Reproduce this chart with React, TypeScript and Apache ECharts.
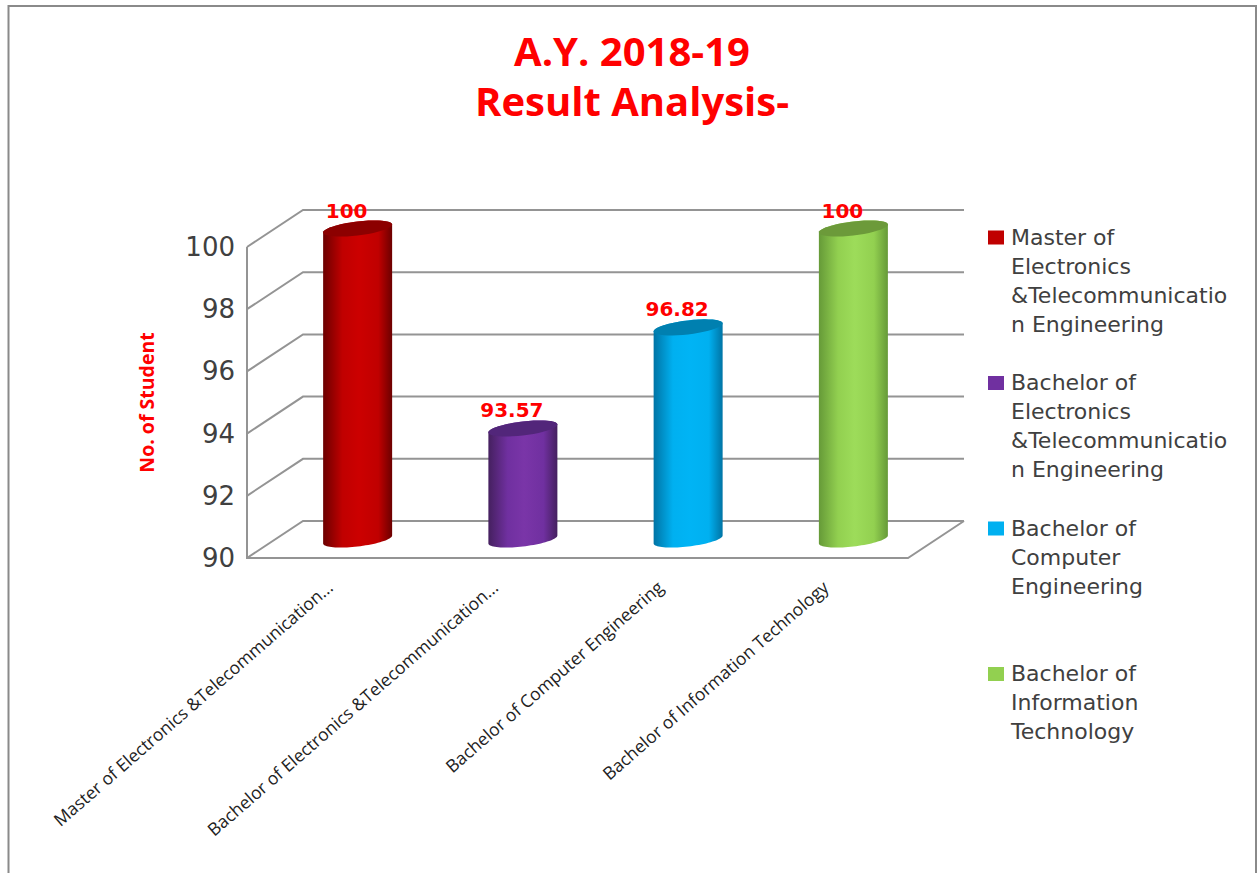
import React, { useEffect, useRef } from "react";
import * as echarts from "echarts";

const TITLE = "A.Y. 2018-19\nResult Analysis-";
const Y_NAME = "No. of Student";
const SERIES_NAMES = [
  "Master of Electronics &Telecommunication Engineering",
  "Bachelor of Electronics &Telecommunication Engineering",
  "Bachelor of Computer Engineering",
  "Bachelor of Information Technology",
];
const LEGEND_TEXTS = [
  "Master of\nElectronics\n&Telecommunicatio\nn Engineering",
  "Bachelor of\nElectronics\n&Telecommunicatio\nn Engineering",
  "Bachelor of\nComputer\nEngineering\n ",
  "Bachelor of\nInformation\nTechnology\n ",
];
const AXIS_LABELS = [
  "Master of Electronics &Telecommunication...",
  "Bachelor of Electronics &Telecommunication...",
  "Bachelor of Computer Engineering",
  "Bachelor of Information Technology",
];
const VALUES = [100, 93.57, 96.82, 100];
const Y_TICKS = [90, 92, 94, 96, 98, 100];
const MAIN_COLORS = ["#c00000", "#7030a0", "#00b0f0", "#92d050"];
const EDGE_COLORS = ["#6c0000", "#45205f", "#0074a5", "#669a38"];
const BRIGHT_COLORS = ["#cc0000", "#7a35a8", "#00b4f5", "#9ddc5a"];
const CAP_COLORS = ["#8c0000", "#52267a", "#0080b0", "#6c9a3a"];

const DEPTH_X = 56;
const DEPTH_Y = 37;
const HALF_W = 34.5;
const TILT = 4;
const RY = 7;
const ARC_STEPS = 40;

function renderWalls(params: any, api: any) {
  const sys = params.coordSys;
  const p = api.coord([0, api.value(1)]);
  const y = p[1];
  const x0 = sys.x;
  const x1 = sys.x + sys.width;
  const style = { stroke: "#949494", lineWidth: 2, fill: "none" };
  const children: any[] = [
    {
      type: "polyline",
      shape: { points: [[x0, y], [x0 + DEPTH_X, y - DEPTH_Y], [x1 + DEPTH_X, y - DEPTH_Y]] },
      style,
    },
  ];
  if (params.dataIndex === 0) {
    children.push({
      type: "polyline",
      shape: { points: [[x0, sys.y], [x0, y], [x1, y], [x1 + DEPTH_X, y - DEPTH_Y]] },
      style,
    });
  }
  return { type: "group", children };
}

function arcPoints(cx: number, cy: number, from: number, to: number) {
  const pts: string[] = [];
  for (let i = 0; i <= ARC_STEPS; i++) {
    const t = from + ((to - from) * i) / ARC_STEPS;
    const x = cx + HALF_W * Math.cos(t);
    const y = cy - TILT * Math.cos(t) + RY * Math.sin(t);
    pts.push(`${x.toFixed(2)} ${y.toFixed(2)}`);
  }
  return pts;
}

function makeCylinder(idx: number) {
  return (_params: any, api: any) => {
    const top = api.coord([api.value(0), api.value(1)]);
    const base = api.coord([api.value(0), 90]);
    const cx = top[0] + DEPTH_X / 2;
    const ty = top[1] - DEPTH_Y / 2;
    const by = base[1] - DEPTH_Y / 2;
    // body: lower half of the base (left to right), upper half of the top (right to left)
    const bodyPts = [
      ...arcPoints(cx, by, Math.PI, 0),
      ...arcPoints(cx, ty, 0, -Math.PI),
    ];
    const capPts = arcPoints(cx, ty, 0, Math.PI * 2);
    return {
      type: "group",
      children: [
        {
          type: "path",
          shape: { pathData: "M" + bodyPts.join("L") + "Z" },
          style: {
            fill: new echarts.graphic.LinearGradient(0, 0, 1, 0, [
              { offset: 0, color: EDGE_COLORS[idx] },
              { offset: 0.28, color: MAIN_COLORS[idx] },
              { offset: 0.52, color: BRIGHT_COLORS[idx] },
              { offset: 0.8, color: MAIN_COLORS[idx] },
              { offset: 1, color: EDGE_COLORS[idx] },
            ]),
          },
        },
        { type: "path", shape: { pathData: "M" + capPts.join("L") + "Z" }, style: { fill: CAP_COLORS[idx] } },
        {
          type: "text",
          style: {
            text: String(api.value(1)),
            x: cx - 11,
            y: ty - 18,
            fill: "#ff0000",
            font: "bold 20px 'DejaVu Sans'",
            textAlign: "center",
            textVerticalAlign: "middle",
          },
        },
      ],
    };
  };
}

export default function App() {
  const ref = useRef<HTMLDivElement>(null);
  useEffect(() => {
    document.body.style.margin = "0";
    const chart = echarts.init(ref.current!, null, { renderer: "svg" });
    chart.setOption({
      animation: false,
      backgroundColor: "#ffffff",
      title: {
        text: TITLE,
        left: 627,
        top: 20,
        textAlign: "center",
        textStyle: {
          color: "#ff0000",
          fontFamily: "'Open Sans'",
          fontWeight: "bold",
          fontSize: 40,
          lineHeight: 50,
        },
      },
      graphic: [
        {
          type: "rect",
          silent: true,
          z: -10,
          shape: { x: 8.5, y: 6, width: 1247.5, height: 900 },
          style: { fill: "none", stroke: "#8a8a8a", lineWidth: 2 },
        },
      ],
      grid: { left: 247, top: 247, width: 661, height: 311 },
      legend: {
        orient: "vertical",
        left: 983,
        top: 217.5,
        itemWidth: 16,
        itemHeight: 100,
        itemGap: 29.5,
        icon: "path://M0 0H16V14H0Z M0 100H0Z",
        data: SERIES_NAMES,
        selectedMode: false,
        formatter: (name: string) => LEGEND_TEXTS[SERIES_NAMES.indexOf(name)],
        textStyle: {
          color: "#404040",
          fontFamily: "'DejaVu Sans'",
          fontSize: 22,
          lineHeight: 29,
          padding: [0, 0, 0, 2],
        },
      },
      xAxis: {
        type: "category",
        data: AXIS_LABELS,
        axisLine: { show: false },
        axisTick: { show: false },
        axisLabel: {
          interval: 0,
          rotate: 41,
          margin: 26,
          color: "#222222",
          fontFamily: "'Open Sans'",
          fontSize: 17.5,
        },
      },
      yAxis: {
        type: "value",
        min: 90,
        max: 100,
        interval: 2,
        name: Y_NAME,
        nameLocation: "center",
        nameGap: 91,
        nameTextStyle: {
          color: "#ff0000",
          fontFamily: "'Open Sans'",
          fontWeight: "bold",
          fontSize: 19.5,
        },
        axisLine: { show: false },
        axisTick: { show: false },
        splitLine: { show: false },
        axisLabel: {
          margin: 12,
          color: "#404040",
          fontFamily: "'DejaVu Sans'",
          fontSize: 26,
        },
      },
      series: [
        {
          type: "custom",
          name: "walls",
          silent: true,
          clip: false,
          z: 1,
          data: Y_TICKS.map((t) => [0, t]),
          encode: { x: 0, y: 1 },
          renderItem: renderWalls,
        },
        ...SERIES_NAMES.map((name, i) => ({
          type: "custom",
          name,
          clip: false,
          z: 2,
          itemStyle: { color: MAIN_COLORS[i] },
          data: [[i, VALUES[i]]],
          encode: { x: 0, y: 1 },
          renderItem: makeCylinder(i),
        })),
      ],
    });
    return () => chart.dispose();
  }, []);
  return <div ref={ref} style={{ position: "absolute", left: 0, top: 0, width: 1257, height: 873 }} />;
}
